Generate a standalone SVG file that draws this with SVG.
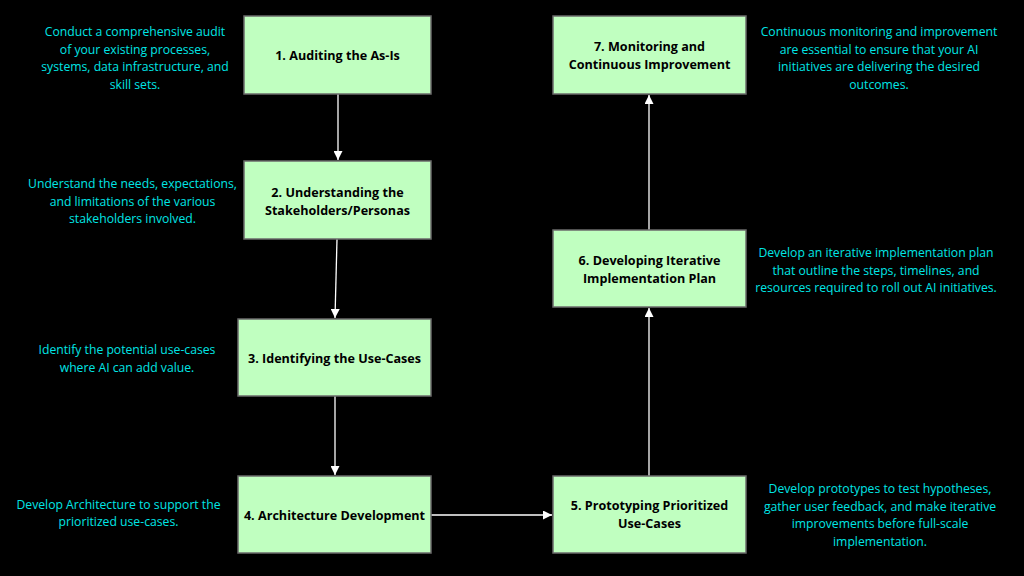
<svg xmlns="http://www.w3.org/2000/svg" width="1024" height="576" viewBox="0 0 1024 576">
<style>
.bg{fill:#000}
.box{fill:#C0FFC0;stroke:#6b6b6b;stroke-width:1.5}
.lbl{font-family:"Open Sans","Noto Sans","DejaVu Sans",sans-serif;font-weight:bold;font-size:12.6px;fill:#000;text-anchor:middle}
.desc{font-family:"Open Sans","Noto Sans","DejaVu Sans",sans-serif;font-size:12.2px;fill:#00E5E5;text-anchor:middle}
.edge{stroke:#fff;stroke-width:1.3;fill:none;marker-end:url(#ah)}
</style>
<defs>
<marker id="ah" viewBox="0 0 10 10" refX="10" refY="5" markerWidth="9" markerHeight="9" markerUnits="userSpaceOnUse" orient="auto">
<path d="M0,0 L10,5 L0,10 z" fill="#fff"/>
</marker>
</defs>
<rect class="bg" x="0" y="0" width="1024" height="576"/>
<g id="connectors">
<line class="edge" x1="338" y1="94" x2="338" y2="160"/>
<line class="edge" x1="337" y1="239" x2="335" y2="318"/>
<line class="edge" x1="335" y1="396" x2="335" y2="475"/>
<line class="edge" x1="431" y1="515" x2="552" y2="515"/>
<line class="edge" x1="649" y1="476" x2="649" y2="308"/>
<line class="edge" x1="649" y1="230" x2="649" y2="95"/>
</g>
<g id="node1">
<rect class="box" x="244" y="16" width="187" height="78"/>
<text class="lbl" x="337.5" y="60">1. Auditing the As-Is</text>
</g>
<g id="node2">
<rect class="box" x="244" y="161" width="187" height="78"/>
<text class="lbl" x="337.5" y="197">2. Understanding the</text>
<text class="lbl" x="337.5" y="214.5">Stakeholders/Personas</text>
</g>
<g id="node3">
<rect class="box" x="238" y="319" width="193" height="77"/>
<text class="lbl" x="334.5" y="363">3. Identifying the Use-Cases</text>
</g>
<g id="node4">
<rect class="box" x="238" y="476" width="193" height="77"/>
<text class="lbl" x="334.5" y="520">4. Architecture Development</text>
</g>
<g id="node5">
<rect class="box" x="553" y="476" width="193" height="77"/>
<text class="lbl" x="649.5" y="510">5. Prototyping Prioritized</text>
<text class="lbl" x="649.5" y="527.5">Use-Cases</text>
</g>
<g id="node6">
<rect class="box" x="553" y="230" width="193" height="77"/>
<text class="lbl" x="649.5" y="265">6. Developing Iterative</text>
<text class="lbl" x="649.5" y="282.5">Implementation Plan</text>
</g>
<g id="node7">
<rect class="box" x="553" y="16" width="193" height="78"/>
<text class="lbl" x="649.5" y="51">7. Monitoring and</text>
<text class="lbl" x="649.5" y="68.5">Continuous Improvement</text>
</g>
<g id="desc1">
<text class="desc" x="135" y="36">Conduct a comprehensive audit</text>
<text class="desc" x="135" y="53.5">of your existing processes,</text>
<text class="desc" x="135" y="71">systems, data infrastructure, and</text>
<text class="desc" x="135" y="88.5">skill sets.</text>
</g>
<g id="desc2">
<text class="desc" x="132.5" y="188">Understand the needs, expectations,</text>
<text class="desc" x="132.5" y="205.5">and limitations of the various</text>
<text class="desc" x="132.5" y="223">stakeholders involved.</text>
</g>
<g id="desc3">
<text class="desc" x="127" y="354">Identify the potential use-cases</text>
<text class="desc" x="127" y="371.5">where AI can add value.</text>
</g>
<g id="desc4">
<text class="desc" x="118.5" y="508.5">Develop Architecture to support the</text>
<text class="desc" x="118.5" y="526">prioritized use-cases.</text>
</g>
<g id="desc5">
<text class="desc" x="880" y="493">Develop prototypes to test hypotheses,</text>
<text class="desc" x="880" y="510.5">gather user feedback, and make iterative</text>
<text class="desc" x="880" y="528">improvements before full-scale</text>
<text class="desc" x="880" y="545.5">implementation.</text>
</g>
<g id="desc6">
<text class="desc" x="876" y="257">Develop an iterative implementation plan</text>
<text class="desc" x="876" y="274.5">that outline the steps, timelines, and</text>
<text class="desc" x="876" y="292">resources required to roll out AI initiatives.</text>
</g>
<g id="desc7">
<text class="desc" x="879" y="36">Continuous monitoring and improvement</text>
<text class="desc" x="879" y="53.5">are essential to ensure that your AI</text>
<text class="desc" x="879" y="71">initiatives are delivering the desired</text>
<text class="desc" x="879" y="88.5">outcomes.</text>
</g>
</svg>
